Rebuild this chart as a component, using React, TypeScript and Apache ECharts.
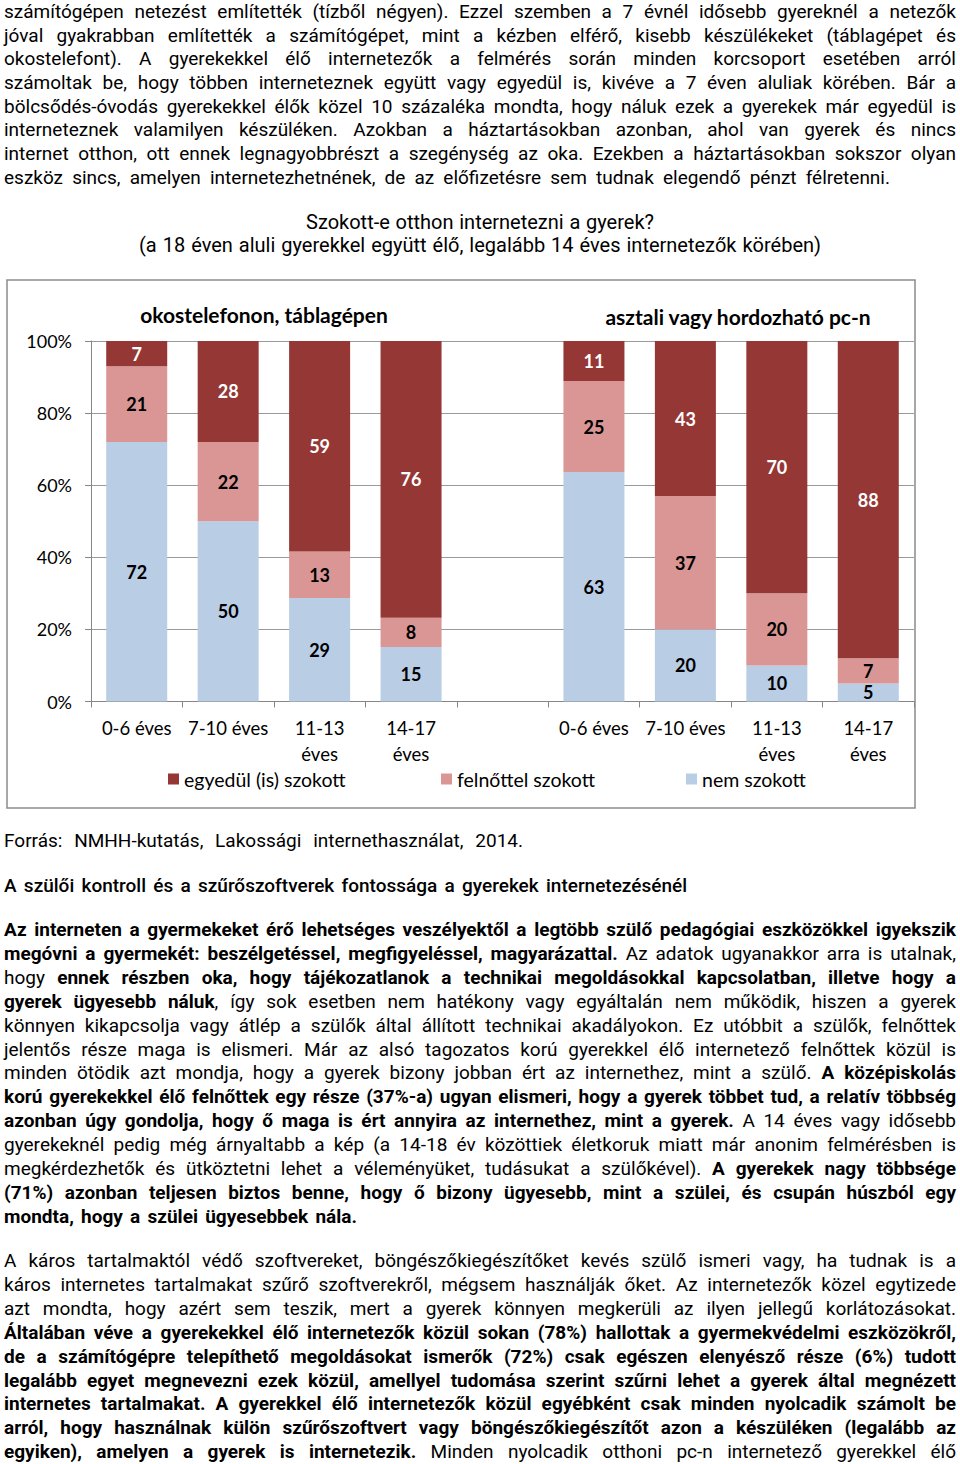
import React, { useEffect, useLayoutEffect, useRef } from "react";
import * as echarts from "echarts";

// ---------- chart data ----------
const categories = ["0-6 éves", "7-10 éves", "11-13\néves", "14-17\néves", "", "0-6 éves", "7-10 éves", "11-13\néves", "14-17\néves"];
const aloneValues = [7, 28, 59, 76, null, 11, 43, 70, 88];
const withAdultValues = [21, 22, 13, 8, null, 25, 37, 20, 7];
const notValues = [72, 50, 29, 15, null, 63, 20, 10, 5];
const seriesNames = ["egyedül (is) szokott", "felnőttel szokott", "nem szokott"];
const seriesColors = ["#953735", "#D99694", "#B9CDE5"];
const yTicks = [0, 20, 40, 60, 80, 100];
const groupTitles = ["okostelefonon, táblagépen", "asztali vagy hordozható pc-n"];

// ---------- text content ----------
const p1Lines = [
  "számítógépen netezést említették (tízből négyen). Ezzel szemben a 7 évnél idősebb gyereknél a netezők",
  "jóval gyakrabban említették a számítógépet, mint a kézben elférő, kisebb készülékeket (táblagépet és",
  "okostelefont). A gyerekekkel élő internetezők a felmérés során minden korcsoport esetében arról",
  "számoltak be, hogy többen interneteznek együtt vagy egyedül is, kivéve a 7 éven aluliak körében. Bár a",
  "bölcsődés-óvodás gyerekekkel élők közel 10 százaléka mondta, hogy náluk ezek a gyerekek már egyedül is",
  "interneteznek valamilyen készüléken. Azokban a háztartásokban azonban, ahol van gyerek és nincs",
  "internet otthon, ott ennek legnagyobbrészt a szegénység az oka. Ezekben a háztartásokban sokszor olyan",
  "eszköz sincs, amelyen internetezhetnének, de az előfizetésre sem tudnak elegendő pénzt félretenni.",
];
const chartTitleLines = [
  "Szokott-e otthon internetezni a gyerek?",
  "(a 18 éven aluli gyerekkel együtt élő, legalább 14 éves internetezők körében)",
];
const sourceLine = "Forrás: NMHH-kutatás, Lakossági internethasználat, 2014.";
const headingLine = "A szülői kontroll és a szűrőszoftverek fontossága a gyerekek internetezésénél";
const p2Lines = [
  "**Az interneten a gyermekeket érő lehetséges veszélyektől a legtöbb szülő pedagógiai eszközökkel igyekszik**",
  "**megóvni a gyermekét: beszélgetéssel, megfigyeléssel, magyarázattal.** Az adatok ugyanakkor arra is utalnak,",
  "hogy **ennek részben oka, hogy tájékozatlanok a technikai megoldásokkal kapcsolatban, illetve hogy a**",
  "**gyerek ügyesebb náluk**, így sok esetben nem hatékony vagy egyáltalán nem működik, hiszen a gyerek",
  "könnyen kikapcsolja vagy átlép a szülők által állított technikai akadályokon. Ez utóbbit a szülők, felnőttek",
  "jelentős része maga is elismeri. Már az alsó tagozatos korú gyerekkel élő internetező felnőttek közül is",
  "minden ötödik azt mondja, hogy a gyerek bizony jobban ért az internethez, mint a szülő. **A középiskolás**",
  "**korú gyerekekkel élő felnőttek egy része (37%-a) ugyan elismeri, hogy a gyerek többet tud, a relatív többség**",
  "**azonban úgy gondolja, hogy ő maga is ért annyira az internethez, mint a gyerek.** A 14 éves vagy idősebb",
  "gyerekeknél pedig még árnyaltabb a kép (a 14-18 év közöttiek életkoruk miatt már anonim felmérésben is",
  "megkérdezhetők és ütköztetni lehet a véleményüket, tudásukat a szülőkével). **A gyerekek nagy többsége**",
  "**(71%) azonban teljesen biztos benne, hogy ő bizony ügyesebb, mint a szülei, és csupán húszból egy**",
  "**mondta, hogy a szülei ügyesebbek nála.**",
];
const p3Lines = [
  "A káros tartalmaktól védő szoftvereket, böngészőkiegészítőket kevés szülő ismeri vagy, ha tudnak is a",
  "káros internetes tartalmakat szűrő szoftverekről, mégsem használják őket. Az internetezők közel egytizede",
  "azt mondta, hogy azért sem teszik, mert a gyerek könnyen megkerüli az ilyen jellegű korlátozásokat.",
  "**Általában véve a gyerekekkel élő internetezők közül sokan (78%) hallottak a gyermekvédelmi eszközökről,**",
  "**de a számítógépre telepíthető megoldásokat ismerők (72%) csak egészen elenyésző része (6%) tudott**",
  "**legalább egyet megnevezni ezek közül, amellyel tudomása szerint szűrni lehet a gyerek által megnézett**",
  "**internetes tartalmakat. A gyerekkel élő internetezők közül egyébként csak minden nyolcadik számolt be**",
  "**arról, hogy használnak külön szűrőszoftvert vagy böngészőkiegészítőt azon a készüléken (legalább az**",
  "**egyiken), amelyen a gyerek is internetezik.** Minden nyolcadik otthoni pc-n internetező gyerekkel élő",
];

type LineSpec = { text: string; cy: number; x: number; w: number; size: number; weight?: number };

const PITCH = 23.9;
const BODY = 19;
const lines: LineSpec[] = [];
p1Lines.forEach((t, i) => lines.push({ text: t, cy: 12 + i * 23.65, x: 4, w: i === p1Lines.length - 1 ? 886 : 952, size: BODY }));
lines.push({ text: chartTitleLines[0], cy: 222, x: 306, w: 348, size: 20 });
lines.push({ text: chartTitleLines[1], cy: 245, x: 139, w: 682, size: 20 });
lines.push({ text: sourceLine, cy: 841, x: 4, w: 519, size: BODY });
lines.push({ text: headingLine, cy: 886, x: 4, w: 683, size: BODY, weight: 500 });
p2Lines.forEach((t, i) => lines.push({ text: t, cy: 930 + i * PITCH, x: 4, w: i === p2Lines.length - 1 ? 353 : 952, size: BODY }));
p3Lines.forEach((t, i) => lines.push({ text: t, cy: 1261 + i * PITCH, x: 4, w: 952, size: BODY }));

function parseSegs(s: string) {
  return s.split("**").map((t, i) => ({ t, b: i % 2 === 1 })).filter((p) => p.t.length > 0);
}

const TEXT_FONT = "Roboto, 'Liberation Sans', sans-serif";
const CHART_FONT = "Lato, 'Open Sans', sans-serif";

function TextLine({ spec }: { spec: LineSpec }) {
  return (
    <div
      style={{
        position: "absolute",
        left: spec.x,
        top: spec.cy - 12,
        height: 24,
        lineHeight: "24px",
        fontSize: spec.size,
        fontFamily: TEXT_FONT,
        fontWeight: spec.weight ?? 400,
        color: "#000",
        whiteSpace: "nowrap",
      }}
    >
      <span data-fit={spec.w} style={{ display: "inline-block", whiteSpace: "nowrap", transformOrigin: "0 50%" }}>
        {parseSegs(spec.text).map((s, i) => (
          <span key={i} style={{ fontWeight: s.b ? 700 : undefined }}>
            {s.t}
          </span>
        ))}
      </span>
    </div>
  );
}

function Chart() {
  const ref = useRef<HTMLDivElement>(null);
  useEffect(() => {
    if (!ref.current) return;
    const chart = echarts.init(ref.current, null, { renderer: "svg" });
    const totals = categories.map((_, i) =>
      notValues[i] == null ? 0 : (notValues[i] as number) + (withAdultValues[i] as number) + (aloneValues[i] as number)
    );
    const toData = (arr: (number | null)[]) =>
      arr.map((v, i) => (v == null ? "-" : { value: (v / totals[i]) * 100, raw: v }));
    const stackOrder = [
      { name: seriesNames[2], vals: notValues, color: seriesColors[2], label: "#000" },
      { name: seriesNames[1], vals: withAdultValues, color: seriesColors[1], label: "#000" },
      { name: seriesNames[0], vals: aloneValues, color: seriesColors[0], label: "#fff" },
    ];
    const legendLefts = [168, 441, 686];
    chart.setOption({
      animation: false,
      grid: { left: 91, right: 46, top: 71, bottom: 118.5 },
      legend: seriesNames.map((n, i) => ({
        data: [n],
        left: legendLefts[i],
        top: 499,
        padding: 0,
        icon: "rect",
        itemWidth: 11,
        itemHeight: 11,
        selectedMode: false,
        textStyle: { fontSize: 19.5, color: "#000", fontFamily: CHART_FONT },
      })),
      xAxis: {
        type: "category",
        data: categories,
        axisLine: { lineStyle: { color: "#868686", width: 1 } },
        axisTick: { show: true, length: 6, interval: 0, lineStyle: { color: "#868686" } },
        axisLabel: { interval: 0, fontSize: 18.5, lineHeight: 26, margin: 13, color: "#000", fontFamily: CHART_FONT },
      },
      yAxis: {
        type: "value",
        min: yTicks[0],
        max: yTicks[yTicks.length - 1],
        interval: yTicks[1] - yTicks[0],
        axisLine: { show: true, lineStyle: { color: "#868686" } },
        axisTick: { show: true, length: 6, lineStyle: { color: "#868686" } },
        axisLabel: { formatter: "{value}%", fontSize: 18, margin: 19, color: "#000", fontFamily: CHART_FONT },
        splitLine: { lineStyle: { color: "#9a9a9a", width: 1 } },
      },
      series: stackOrder.map((s) => ({
        type: "bar",
        name: s.name,
        stack: "all",
        barWidth: 61,
        data: toData(s.vals),
        itemStyle: { color: s.color },
        label: {
          show: true,
          position: "inside",
          fontSize: 18,
          fontWeight: "bold",
          fontFamily: CHART_FONT,
          color: s.label,
          formatter: (p: any) => (p.data && p.data.raw != null ? String(p.data.raw) : ""),
        },
      })),
      graphic: [
        {
          type: "rect",
          silent: true,
          z: -10,
          shape: { x: 7, y: 10, width: 908, height: 528 },
          style: { fill: "none", stroke: "#8c8c8c", lineWidth: 1.5 },
        },
        {
          type: "text",
          x: 264,
          y: 44,
          style: {
            text: groupTitles[0],
            font: `bold 21px ${CHART_FONT}`,
            fill: "#000",
            align: "center",
            verticalAlign: "middle",
            textAlign: "center",
            textVerticalAlign: "middle",
          },
        },
        {
          type: "text",
          x: 738,
          y: 46,
          style: {
            text: groupTitles[1],
            font: `bold 21px ${CHART_FONT}`,
            fill: "#000",
            align: "center",
            verticalAlign: "middle",
            textAlign: "center",
            textVerticalAlign: "middle",
          },
        },
      ],
    });
    return () => chart.dispose();
  }, []);
  return <div ref={ref} style={{ position: "absolute", left: 0, top: 270, width: 960, height: 550 }} />;
}

export default function App() {
  const rootRef = useRef<HTMLDivElement>(null);
  useLayoutEffect(() => {
    const adjust = () => {
      const root = rootRef.current;
      if (!root) return;
      root.querySelectorAll<HTMLElement>("[data-fit]").forEach((el) => {
        const target = Number(el.dataset.fit);
        el.style.wordSpacing = "0px";
        el.style.transform = "none";
        const w = el.getBoundingClientRect().width;
        const spaces = ((el.textContent || "").trim().match(/ /g) || []).length;
        if (w < target && spaces > 0) {
          el.style.wordSpacing = `${(target - w) / spaces}px`;
        } else if (w > target) {
          el.style.transform = `scaleX(${target / w})`;
        }
      });
    };
    adjust();
    if ((document as any).fonts && (document as any).fonts.ready) {
      (document as any).fonts.ready.then(adjust);
    }
  }, []);
  return (
    <div
      ref={rootRef}
      style={{ position: "absolute", left: 0, top: 0, width: 960, height: 1464, background: "#fff", overflow: "hidden" }}
    >
      {lines.map((l, i) => (
        <TextLine key={i} spec={l} />
      ))}
      <Chart />
    </div>
  );
}
